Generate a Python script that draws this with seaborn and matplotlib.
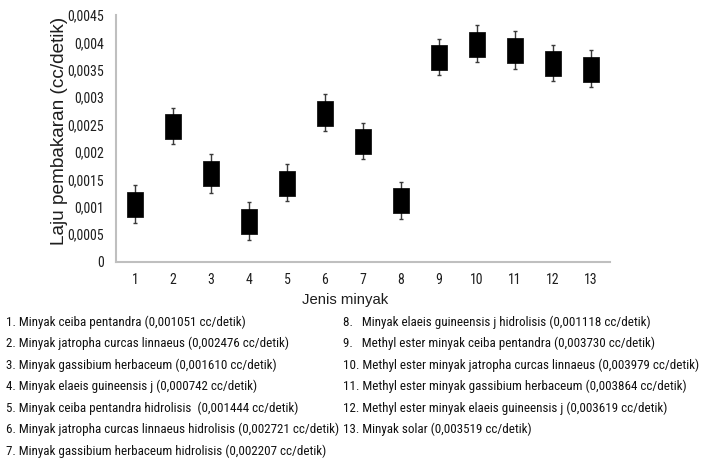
import matplotlib
matplotlib.use("Agg")
import matplotlib.pyplot as plt
from matplotlib import font_manager
import seaborn as sns
import pandas as pd
from matplotlib.ticker import FixedLocator, FuncFormatter

# Oil samples numbered 1..13 and their burning rate (cc/detik)
jenis = list(range(1, 14))
laju = [0.001051, 0.002476, 0.001610, 0.000742, 0.001444, 0.002721, 0.002207,
        0.001118, 0.003730, 0.003979, 0.003864, 0.003619, 0.003519]
galat = [0.00034, 0.00033, 0.00035, 0.00034, 0.00033, 0.00033, 0.00033,
         0.00033, 0.00033, 0.00033, 0.00034, 0.00033, 0.00034]
keterangan_kiri = [
    "1. Minyak ceiba pentandra (0,001051 cc/detik)",
    "2. Minyak jatropha curcas linnaeus (0,002476 cc/detik)",
    "3. Minyak gassibium herbaceum (0,001610 cc/detik)",
    "4. Minyak elaeis guineensis j (0,000742 cc/detik)",
    "5. Minyak ceiba pentandra hidrolisis  (0,001444 cc/detik)",
    "6. Minyak jatropha curcas linnaeus hidrolisis (0,002721 cc/detik)",
    "7. Minyak gassibium herbaceum hidrolisis (0,002207 cc/detik)",
]
keterangan_kanan = [
    "8.   Minyak elaeis guineensis j hidrolisis (0,001118 cc/detik)",
    "9.   Methyl ester minyak ceiba pentandra (0,003730 cc/detik)",
    "10. Methyl ester minyak jatropha curcas linnaeus (0,003979 cc/detik)",
    "11. Methyl ester minyak gassibium herbaceum (0,003864 cc/detik)",
    "12. Methyl ester minyak elaeis guineensis j (0,003619 cc/detik)",
    "13. Minyak solar (0,003519 cc/detik)",
]

df = pd.DataFrame({"jenis": jenis, "laju": laju, "galat": galat})

sns.set_theme(style="white")

# prefer a narrow sans face for ticks and the numbered list
installed = {f.name for f in font_manager.fontManager.ttflist}
narrow = next((n for n in ["Liberation Sans Narrow", "Arial Narrow", "Roboto Condensed",
                           "Open Sans Condensed", "DejaVu Sans Condensed"] if n in installed),
              "Liberation Sans")
plt.rcParams["font.family"] = [narrow, "Liberation Sans", "DejaVu Sans"]
regular = ["Liberation Sans", "DejaVu Sans"]

fig = plt.figure(figsize=(7.01, 4.58), dpi=100)
ax = fig.add_axes([116 / 701, 1 - 261.7 / 458, 494 / 701, (261.7 - 15) / 458])

grey = "#bfbfbf"
ax.errorbar(df["jenis"], df["laju"], yerr=df["galat"], fmt="none",
            ecolor="#3a3a3a", elinewidth=1.0, capsize=1.5, capthick=1.0, zorder=2)

rect = [(-0.32, -0.5), (0.32, -0.5), (0.32, 0.5), (-0.32, 0.5), (-0.32, -0.5)]
sns.scatterplot(data=df, x="jenis", y="laju", marker=rect, s=18 ** 2,
                color="black", edgecolor="black", linewidth=0.5, ax=ax, zorder=3)

ax.set_xlim(0.5, 13.5)
ax.set_ylim(0, 0.0045)
ax.set_xlabel("")
ax.set_ylabel("")

ax.xaxis.set_major_locator(FixedLocator(jenis))
ax.xaxis.set_minor_locator(FixedLocator([j + 0.5 for j in range(0, 14)]))
ax.set_xticklabels([str(j) for j in jenis])
ax.yaxis.set_major_locator(FixedLocator([i * 0.0005 for i in range(10)]))
ax.yaxis.set_major_formatter(FuncFormatter(
    lambda v, p: "0" if v == 0 else ("%g" % round(v, 5)).replace(".", ",")))

fig.canvas.draw()
renderer = fig.canvas.get_renderer()


def fit_size(text, size, target_px, family=None):
    t = fig.text(0, 0, text, fontsize=size, family=family)
    w = t.get_window_extent(renderer).width
    t.remove()
    return size * target_px / w


tick_size = 10
ax.tick_params(axis="x", which="major", length=0, pad=8, labelsize=tick_size, labelcolor="#1e1e1e")
ax.tick_params(axis="x", which="minor", length=3.5, width=1.2, color=grey, direction="out")
ax.tick_params(axis="y", which="major", length=3.5, width=1.2, color=grey, direction="out",
               pad=5, labelsize=tick_size, labelcolor="#1e1e1e")

for side in ("top", "right"):
    ax.spines[side].set_visible(False)
for side in ("left", "bottom"):
    ax.spines[side].set_color(grey)
    ax.spines[side].set_linewidth(1.5)

ylab = fit_size("Laju pembakaran (cc/detik)", 12, 230, regular)
fig.text(60 / 701, 1 - 131 / 458, "Laju pembakaran (cc/detik)", rotation=90,
         ha="center", va="center", fontsize=ylab, color="#1e1e1e", family=regular)
fig.text(345 / 701, 1 - 300 / 458, "Jenis minyak", ha="center", va="center",
         fontsize=fit_size("Jenis minyak", 11, 86, regular), color="#1e1e1e", family=regular)

list_size = min(10.5, fit_size(keterangan_kiri[5], 10, 331))
y0, dy = 322, 21.5
for i, t in enumerate(keterangan_kiri):
    fig.text(6 / 701, 1 - (y0 + i * dy) / 458, t, ha="left", va="center",
             fontsize=list_size, color="#111111")
for i, t in enumerate(keterangan_kanan):
    fig.text(343 / 701, 1 - (y0 + i * dy) / 458, t, ha="left", va="center",
             fontsize=list_size, color="#111111")

fig.savefig("out.png", dpi=100)
